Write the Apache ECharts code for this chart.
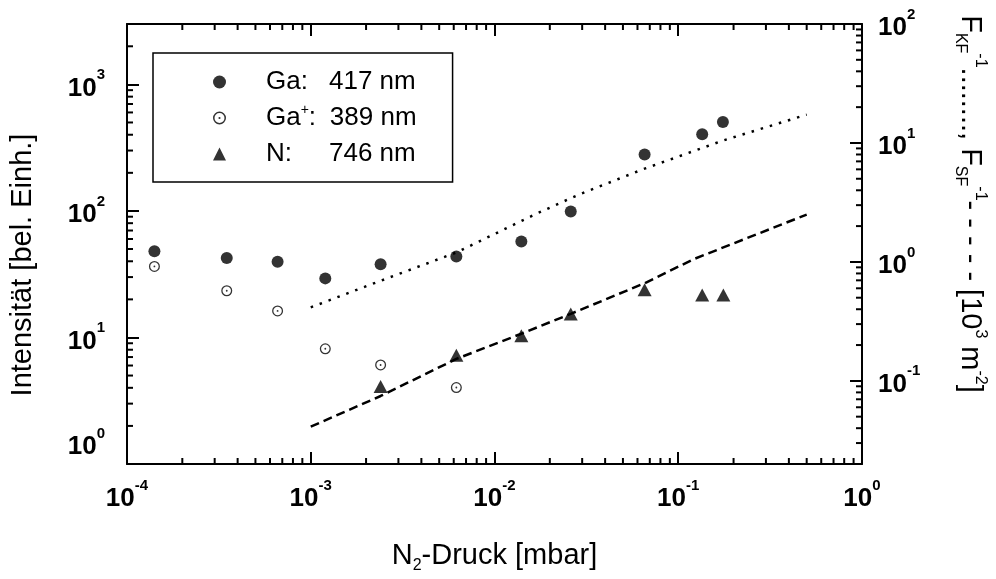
<!DOCTYPE html>
<html>
<head>
<meta charset="utf-8">
<title>Intensität vs. N2-Druck</title>
<script src="https://cdn.jsdelivr.net/npm/echarts@6/dist/echarts.min.js"></script>
<style>
  html, body { margin: 0; padding: 0; background: #fff; }
  #chart { width: 996px; height: 579px; }
</style>
</head>
<body>
<div id="chart"></div>
<script>
// Ga-Linie 417 nm
const pressureGa = [1.41e-4, 3.49e-4, 6.6e-4, 1.2e-3, 2.4e-3, 6.2e-3, 0.014, 0.026, 0.0656, 0.135, 0.175];
const intensityGa = [48, 42.5, 39.7, 29.3, 37.9, 43.6, 57.2, 98.8, 279, 404, 505];
// Ga+ Linie 389 nm
const pressureGaIon = [1.41e-4, 3.49e-4, 6.6e-4, 1.2e-3, 2.4e-3, 6.2e-3];
const intensityGaIon = [36.4, 23.4, 16.2, 8.14, 6.06, 4.02];
// N-Linie 746 nm
const pressureN = [2.4e-3, 6.2e-3, 0.014, 0.026, 0.0656, 0.135, 0.176];
const intensityN = [4.09, 7.23, 10.3, 15.3, 23.8, 21.7, 21.7];
// F_KF^-1 (gepunktet) und F_SF^-1 (gestrichelt), rechte Achse [10^3 m^-2]
const pressureKF = [1e-3, 2.34e-3, 6.2e-3, 0.0169, 0.0289, 0.0656, 0.176, 0.5];
const invKF = [0.415, 0.684, 1.2, 2.54, 3.69, 6.08, 10.5, 17.3];
const pressureSF = [1e-3, 2.4e-3, 6.2e-3, 0.014, 0.026, 0.0656, 0.1217, 0.5];
const invSF = [0.0412, 0.0746, 0.153, 0.249, 0.366, 0.662, 1.057, 2.5];

const FONT = 'Liberation Sans';

function zip(xs, ys) {
  return xs.map((x, i) => [x, ys[i]]);
}

// kleine Striche bei 2..9 jeder Dekade
function minorValues(from, to) {
  const out = [];
  for (let e = from; e < to; e++) {
    for (let k = 2; k <= 9; k++) out.push(k * Math.pow(10, e));
  }
  return out;
}
const xMinor = minorValues(-4, 0);
const leftMinor = minorValues(0, 4).filter(v => v < 3000);
const rightMinor = minorValues(-2, 2).filter(v => v > 0.02 && v < 100);

function powLabel(v) {
  const l = Math.log10(v);
  const e = Math.round(l);
  if (Math.abs(l - e) > 1e-6) return '';
  return '{b|10}{s|' + e + '}';
}
// 10^0 links sitzt etwas hoeher (leere zweite Zeile schiebt es nach oben)
function powLabelLeft(v) {
  if (Math.abs(v - 1) < 1e-9) return '{b|10}{s|0}\n{e| }';
  return powLabel(v);
}

const powRich = {
  b: { fontFamily: FONT, fontSize: 26, fontWeight: 'bold', color: '#000', lineHeight: 34, padding: [8, 0, 0, 0] },
  s: { fontFamily: FONT, fontSize: 15, fontWeight: 'bold', color: '#000', lineHeight: 20, verticalAlign: 'top' },
  e: { fontSize: 10, lineHeight: 42 }
};

const txtRich = {
  t: { fontFamily: FONT, fontSize: 29, color: '#000', lineHeight: 36 },
  sub: { fontFamily: FONT, fontSize: 16, color: '#000', lineHeight: 14, verticalAlign: 'bottom' },
  sup: { fontFamily: FONT, fontSize: 16, color: '#000', lineHeight: 16, verticalAlign: 'top' }
};

function renderTicks(params, api) {
  const cs = params.coordSys;
  const kind = api.value(2);
  const st = { stroke: '#000', lineWidth: 2 };
  if (kind === 0) {
    const x = api.coord([api.value(0), 1])[0];
    return {
      type: 'group',
      children: [
        { type: 'line', shape: { x1: x, y1: cs.y + cs.height, x2: x, y2: cs.y + cs.height - 6 }, style: st },
        { type: 'line', shape: { x1: x, y1: cs.y, x2: x, y2: cs.y + 6 }, style: st }
      ]
    };
  }
  const y = api.coord([1e-4, api.value(1)])[1];
  const x0 = kind === 1 ? cs.x : cs.x + cs.width;
  const d = kind === 1 ? 6 : -6;
  return { type: 'line', shape: { x1: x0, y1: y, x2: x0 + d, y2: y }, style: st };
}

const axisLine = { lineStyle: { color: '#000', width: 2 } };
const majorTick = { inside: true, length: 12, lineStyle: { color: '#000', width: 2 } };

const legendNames = {
  'Ga': '{l|Ga:}{v|417 nm}',
  'Ga+': '{g|Ga}{p|+}{c|:}{v|389 nm}',
  'N': '{l|N:}{v|746 nm}'
};

const ionSymbol = 'path://M0,-6A6,6 0 1,1 0,6A6,6 0 1,1 0,-6Z' +
  'M0,-4.6A4.6,4.6 0 1,0 0,4.6A4.6,4.6 0 1,0 0,-4.6Z' +
  'M0,-1A1,1 0 1,1 0,1A1,1 0 1,1 0,-1Z';

const chart = echarts.init(document.getElementById('chart'), null, { renderer: 'canvas' });

chart.setOption({
  backgroundColor: '#fff',
  animation: false,
  grid: { left: 118, right: 132, top: 24, bottom: 100 },
  legend: {
    orient: 'vertical',
    left: 153,
    top: 53,
    data: ['Ga', 'Ga+', 'N'],
    borderColor: '#000',
    borderWidth: 1.5,
    borderRadius: 0,
    padding: [14, 36, 13, 60],
    itemGap: 6,
    itemWidth: 13,
    itemHeight: 13,
    selectedMode: false,
    formatter: name => legendNames[name],
    textStyle: {
      padding: [0, 0, 0, 35],
      lineHeight: 30,
      rich: {
        l: { fontFamily: FONT, fontSize: 26, color: '#000', width: 63, lineHeight: 30 },
        g: { fontFamily: FONT, fontSize: 26, color: '#000', lineHeight: 30 },
        p: { fontFamily: FONT, fontSize: 14, color: '#000', lineHeight: 12, verticalAlign: 'top' },
        c: { fontFamily: FONT, fontSize: 26, color: '#000', width: 21, lineHeight: 30 },
        v: { fontFamily: FONT, fontSize: 26, color: '#000', lineHeight: 30 }
      }
    }
  },
  xAxis: [{
    type: 'log',
    logBase: 10,
    min: 1e-4,
    max: 1,
    position: 'bottom',
    name: '{t|N}{sub|2}{t|-Druck [mbar]}',
    nameLocation: 'middle',
    nameGap: 74,
    nameTextStyle: { rich: txtRich },
    axisLine: axisLine,
    axisTick: majorTick,
    splitLine: { show: false },
    axisLabel: { margin: 14, formatter: powLabel, rich: powRich }
  }, {
    type: 'log',
    logBase: 10,
    min: 1e-4,
    max: 1,
    position: 'top',
    axisLine: axisLine,
    axisTick: majorTick,
    splitLine: { show: false },
    axisLabel: { show: false }
  }],
  yAxis: [{
    type: 'log',
    logBase: 10,
    min: 1,
    max: 3000,
    position: 'left',
    name: 'Intensität [bel. Einh.]',
    nameLocation: 'middle',
    nameRotate: 90,
    nameGap: 90,
    nameTextStyle: { fontFamily: FONT, fontSize: 29, color: '#000', padding: [0, 42, 0, 0] },
    axisLine: axisLine,
    axisTick: majorTick,
    splitLine: { show: false },
    axisLabel: { margin: 22, formatter: powLabelLeft, rich: powRich }
  }, {
    type: 'log',
    logBase: 10,
    min: 0.02,
    max: 100,
    position: 'right',
    name: '{t|F}{sub|KF}{sup|-1}{t|........, F}{sub|SF}{sup|-1}{t|- - - - - [10}{sup|3}{t| m}{sup|-2}{t|]}',
    nameLocation: 'middle',
    nameRotate: -90,
    nameGap: 90,
    nameTextStyle: { rich: txtRich, padding: [0, 80, 0, 0] },
    axisLine: axisLine,
    axisTick: majorTick,
    splitLine: { show: false },
    axisLabel: { margin: 16, formatter: powLabel, rich: powRich }
  }],
  series: [{
    type: 'line',
    yAxisIndex: 1,
    data: zip(pressureKF, invKF),
    symbol: 'none',
    silent: true,
    lineStyle: { color: '#000', width: 2.5, type: [2.5, 7] },
    z: 2
  }, {
    type: 'line',
    yAxisIndex: 1,
    data: zip(pressureSF, invSF),
    symbol: 'none',
    silent: true,
    lineStyle: { color: '#000', width: 2.5, type: [9, 5] },
    z: 2
  }, {
    name: 'Ga',
    type: 'scatter',
    data: zip(pressureGa, intensityGa),
    symbol: 'circle',
    symbolSize: 12,
    itemStyle: { color: '#000' },
    z: 4
  }, {
    name: 'Ga+',
    type: 'scatter',
    data: zip(pressureGaIon, intensityGaIon),
    symbol: ionSymbol,
    symbolSize: 11,
    itemStyle: { color: '#000' },
    z: 4
  }, {
    name: 'N',
    type: 'scatter',
    data: zip(pressureN, intensityN),
    symbol: 'triangle',
    symbolSize: [14, 13],
    itemStyle: { color: '#000' },
    z: 4
  }, {
    type: 'custom',
    silent: true,
    clip: false,
    renderItem: renderTicks,
    data: xMinor.map(v => [v, 1, 0]).concat(leftMinor.map(v => [1e-4, v, 1])),
    z: 3
  }, {
    type: 'custom',
    yAxisIndex: 1,
    silent: true,
    clip: false,
    renderItem: renderTicks,
    data: rightMinor.map(v => [1e-4, v, 2]),
    z: 3
  }]
});
</script>
</body>
</html>
